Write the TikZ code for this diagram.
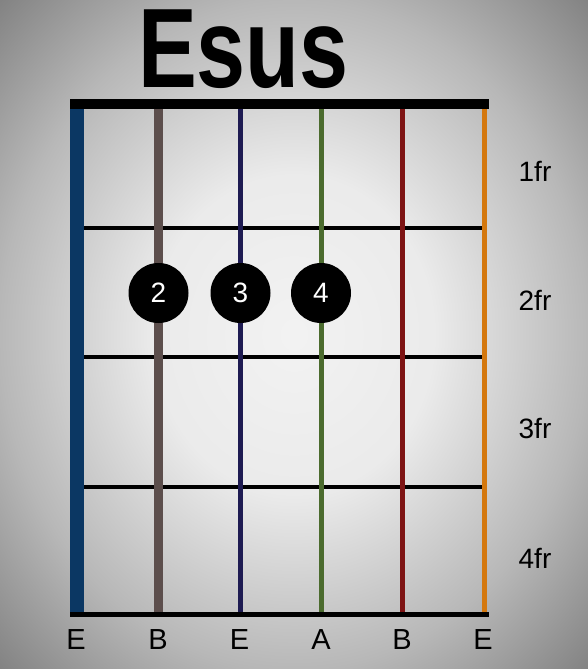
\documentclass[tikz,border=0pt]{standalone}
\usepackage{fontspec}
\setmainfont{Liberation Sans}
\usepackage{tikz}
\usetikzlibrary{positioning}
\definecolor{strblue}{HTML}{0B3763}
\definecolor{strbrown}{HTML}{5C4E4C}
\definecolor{strnavy}{HTML}{1E1B52}
\definecolor{strgreen}{HTML}{4B6B2E}
\definecolor{strred}{HTML}{7E1414}
\definecolor{strorange}{HTML}{D4780E}
\pgfdeclareradialshading{backshade}{\pgfpoint{0bp}{0bp}}{%
  color(0bp)=(black!5); color(12bp)=(black!8); color(25bp)=(black!28);
  color(36bp)=(black!50); color(50bp)=(black!55)}
\tikzset{
  finger/.style={circle,fill=black,text=white,minimum size=60pt,inner sep=0pt,
    font=\fontsize{28}{28}\selectfont},
  strlabel/.style={font=\fontsize{29}{29}\selectfont,inner sep=0pt},
  fretlabel/.style={font=\fontsize{28}{28}\selectfont,inner sep=0pt}
}

\begin{document}
\begin{tikzpicture}[x=1pt,y=-1pt]
  \useasboundingbox (0,0) rectangle (588,669);
  % Background
  \shade[shading=backshade] (0,0) rectangle (588,669);
  % Title
  \node[font=\bfseries\fontsize{113}{113}\selectfont,xscale=0.78,inner sep=0pt] (title) at (243.5,49) {Esus};
  % Frets
  \foreach \y in {228,357,487} {
    \draw[line width=3.5pt] (70,\y) -- (486,\y);
  }
  % Nut and bottom bar
  \fill[black] (70,99) rectangle (489,109);
  \fill[black] (70,612) rectangle (489,617);
  % Strings: position / width / colour
  \foreach \x/\w/\c in {77/14/strblue, 158.5/9/strbrown, 240.5/5/strnavy,
                        321/5/strgreen, 402.5/5/strred, 484.5/5/strorange} {
    \draw[\c,line width=\w pt] (\x,109) -- (\x,612);
  }
  % Fingers
  \node[finger] (f2) at (158.5,293) {2};
  \node[finger] (f3) at (240.5,293) {3};
  \node[finger] (f4) at (321,293) {4};
  % String names
  \foreach \x/\lab [count=\i] in {76/E, 158/B, 239.5/E, 321/A, 402/B, 483/E} {
    \node[strlabel] (s\i) at (\x,640) {\lab};
  }
  % Fret numbers
  \foreach \y/\lab in {171/1fr, 300/2fr, 429/3fr, 558/4fr} {
    \node[fretlabel] (fr\lab) at (535,\y) {\lab};
  }
\end{tikzpicture}
\end{document}
